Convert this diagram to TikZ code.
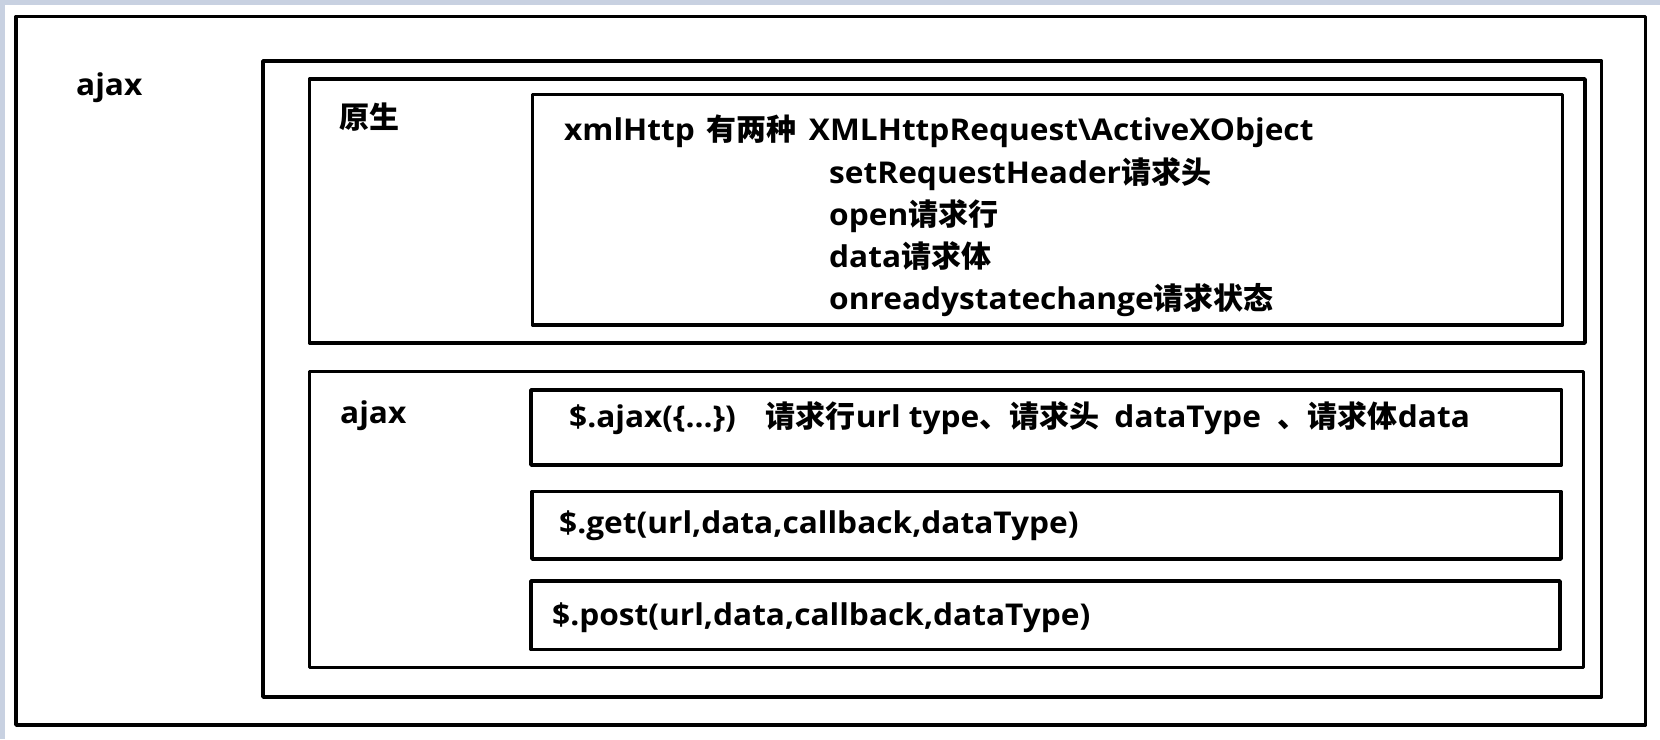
\documentclass[tikz,border=0pt]{standalone}
\usepackage{fontspec}
\setmainfont{Open Sans}[FakeStretch=1.055]
\newfontfamily\cjk{Noto Sans CJK SC}
\newcommand\zh[1]{{\cjk #1}}
\definecolor{bgblue}{RGB}{200,209,225}
\begin{document}
\begin{tikzpicture}[x=1pt,y=-1pt,
  frame/.style={draw=black, line width=3.5pt, line join=round, inner sep=0pt, fill=none},
  lbl/.style={anchor=base west, inner sep=0pt, font=\fontsize{30}{42}\selectfont\bfseries}]
\useasboundingbox (0,0) rectangle (1660,739);
\fill[bgblue] (0,0) rectangle (1660,739);
\fill[white] (5,5) rectangle (1660,739);
% boxes
\node[frame, minimum width=1629.5pt, minimum height=708.5pt] (outer) at (830.75,370.75) {};
\node[frame, minimum width=1338.5pt, minimum height=636pt] (inner) at (932.25,379) {};
\node[frame, minimum width=1275.5pt, minimum height=264pt] (ysbox) at (947.25,211) {};
\node[frame, minimum width=1274pt, minimum height=296pt] (ajaxbox) at (946.5,519.5) {};
\node[frame, minimum width=1030pt, minimum height=230.5pt] (tbone) at (1047.5,209.75) {};
\node[frame, minimum width=1030.5pt, minimum height=75pt] (tbtwo) at (1046.25,427.5) {};
\node[frame, minimum width=1029pt, minimum height=67.5pt] (tbthree) at (1046.5,525.25) {};
\node[frame, minimum width=1029pt, minimum height=68.5pt] (tbfour) at (1045.5,615.25) {};
% labels
\node[lbl] (tajax) at (76,95) {ajax};
\node[lbl] (tys) at (339,128) {\zh{原生}};
\node[lbl] (tajaxtwo) at (340,423) {ajax};
\node[lbl] (lone) at (564,140) {xmlHttp\hspace{12pt}\zh{有两种}\hspace{12pt}XMLHttpRequest\textbackslash ActiveXObject};
\node[lbl] (ltwo) at (829,183) {setRequestHeader\zh{请求头}};
\node[lbl] (lthree) at (829,225) {open\zh{请求行}};
\node[lbl] (lfour) at (829,267) {data\zh{请求体}};
\node[lbl] (lfive) at (829,309) {onreadystatechange\zh{请求状态}};
\node[lbl] (lajax) at (569,427) {\$.ajax(\{...\})\hspace{30pt}\zh{请求行}url type\zh{、请求头}\hspace{15pt}dataType\hspace{17pt}\zh{、请求体}data};
\node[lbl] (lget) at (559,533) {\$.get(url,data,callback,dataType)};
\node[lbl] (lpost) at (552,625) {\$.post(url,data,callback,dataType)};
\end{tikzpicture}
\end{document}
